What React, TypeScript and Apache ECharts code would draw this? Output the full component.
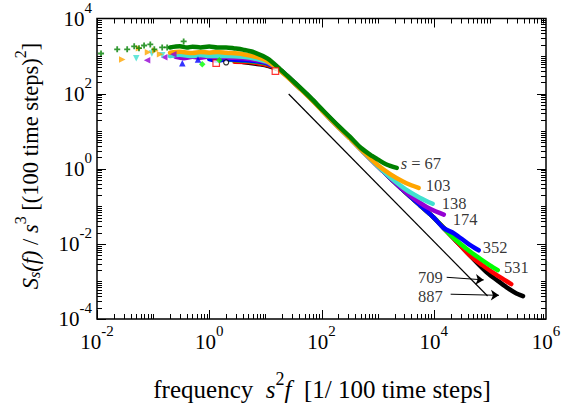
import React, { useEffect, useRef } from 'react';
import * as echarts from 'echarts';

const FONT = 'Liberation Serif';

const sizeLabels = ['s = 67', '103', '138', '174', '352', '531', '709', '887'];
const colors = ['#008000', '#ffa500', '#40e0d0', '#9400d3', '#0000ff', '#00ff00', '#ff0000', '#000000'];

// sparse low-frequency points [s^2 f, S/s^3]
const marks67 = [[0.0118, 1170], [0.0229, 1510], [0.0345, 1510], [0.046, 1820], [0.056, 1620], [0.069, 1910], [0.089, 2040], [0.105, 1510], [0.145, 1700], [0.178, 1700], [0.35, 2450]];
const marks103 = [[0.0282, 813], [0.056, 1620], [0.081, 1260], [0.109, 1410], [0.133, 1120]];
const marks138 = [[0.05, 871], [0.095, 1170], [0.145, 1050]];
const marks174 = [[0.078, 776], [0.158, 933], [0.229, 1120]];
const marks352 = [[0.331, 646], [0.631, 813]];
const marks531 = [[0.75, 603], [1.51, 776]];
const marks709 = [[1.33, 646], [15.1, 398]];
const marks887 = [[2.0, 676]];

// dense part of each spectrum
const band67 = [[0.2, 1700], [0.3, 1820], [0.4, 1680], [0.501, 1780], [0.7, 1700], [1.0, 1800], [1.4, 1690], [2.0, 1700], [2.8, 1600], [3.98, 1480], [6.31, 1260], [11.0, 851], [18.6, 437], [34.7, 186], [63.1, 79.4], [110, 33.9], [200, 13.8], [316, 7.24], [501, 3.63], [794, 2.19], [1000, 1.78], [1410, 1.32], [2190, 1.05]];
const band103 = [[0.2, 1230], [0.3, 1300], [0.501, 1200], [0.7, 1280], [1, 1230], [1.4, 1290], [2, 1230], [3.98, 1120], [7.08, 933], [11, 724], [18.6, 398], [34.7, 174], [63.1, 74.1], [110, 31.6], [200, 12.9], [316, 6.61], [562, 2.82], [1000, 1.26], [1700, 0.708], [2820, 0.457], [3980, 0.363], [5370, 0.309]];
const band138 = [[0.2, 1000], [0.3, 1080], [0.501, 1000], [0.7, 1060], [1, 1000], [2, 1000], [3.98, 955], [7.08, 832], [11, 692], [18.6, 417], [34.7, 178], [63.1, 75.9], [110, 32.4], [200, 13.2], [316, 6.76], [562, 2.82], [1000, 1.2], [1780, 0.55], [3160, 0.282], [5620, 0.17], [9550, 0.117]];
const band174 = [[0.251, 955], [0.35, 880], [0.501, 960], [0.7, 900], [1, 977], [2, 912], [3.98, 871], [7.08, 776], [11, 661], [18.6, 417], [34.7, 178], [63.1, 75.9], [110, 32.4], [200, 13.2], [316, 6.76], [562, 2.82], [1000, 1.2], [1780, 0.525], [3160, 0.24], [5620, 0.126], [8910, 0.0832], [15100, 0.0603]];
const band352 = [[1, 832], [1.4, 760], [2, 820], [3.98, 776], [7.08, 724], [11, 631], [18.6, 417], [34.7, 178], [63.1, 75.9], [110, 32.4], [200, 13.2], [316, 6.76], [562, 2.82], [1000, 1.2], [1780, 0.525], [3160, 0.234], [5890, 0.102], [10000, 0.0501], [15100, 0.0263], [22900, 0.0191], [40700, 0.0102], [63100, 0.00676]];
const band531 = [[2.24, 794], [3.98, 759], [7.08, 708], [11, 617], [18.6, 417], [34.7, 178], [63.1, 75.9], [110, 32.4], [200, 13.2], [316, 6.76], [562, 2.82], [1000, 1.2], [1780, 0.525], [3160, 0.234], [5890, 0.102], [10000, 0.0501], [15100, 0.0263], [22900, 0.0141], [39800, 0.00708], [69200, 0.00389], [100000, 0.00269], [138000, 0.002]];
const band709 = [[2.82, 708], [5.01, 692], [7.94, 631], [11, 575], [18.6, 417], [34.7, 178], [63.1, 75.9], [110, 32.4], [200, 13.2], [316, 6.76], [562, 2.82], [1000, 1.2], [1780, 0.525], [3160, 0.234], [5890, 0.102], [10000, 0.0501], [15100, 0.0263], [22900, 0.0138], [45700, 0.00468], [74100, 0.00269], [117000, 0.00166], [178000, 0.00112], [240000, 0.000851]];
const band887 = [[3.98, 692], [7.94, 603], [11, 550], [18.6, 417], [34.7, 178], [63.1, 75.9], [110, 32.4], [200, 13.2], [316, 6.76], [562, 2.82], [1000, 1.2], [1780, 0.525], [3160, 0.234], [5890, 0.102], [10000, 0.0501], [15100, 0.0263], [22900, 0.0138], [45700, 0.00468], [91200, 0.00166], [141000, 0.00102], [209000, 0.00066], [282000, 0.000501], [389000, 0.000407]];

// slope reference line
const refLine = [[26, 98], [91000, 0.00041]];
// arrows pointing at 709 and 887
const arrow709 = [[17000, 0.00129], [77600, 0.0011]];
const arrow887 = [[20000, 0.000457], [145000, 0.000427]];

// curve label anchors
const labelPos = [[2570, 1.35], [7190, 0.355], [13900, 0.122], [21900, 0.0433], [75000, 0.00813], [178000, 0.0024], [14500, 0.00129], [14500, 0.000407]];

const xExps = [-2, -1, 0, 1, 2, 3, 4, 5];
const yExps = [-4, -3, -2, -1, 0, 1, 2, 3];
const tickMults = [1, 2, 3, 4, 5, 6, 7, 8, 9];

const bands = [band67, band103, band138, band174, band352, band531, band709, band887];
const marks = [marks67, marks103, marks138, marks174, marks352, marks531, marks709, marks887];
const symbols = [
  'path://M-0.3,-1H0.3V-0.3H1V0.3H0.3V1H-0.3V0.3H-1V-0.3H-0.3Z',
  'triangle', 'triangle', 'triangle', 'triangle', 'diamond', 'rect', 'circle',
];
const rotations = [0, -90, 180, 90, 0, 0, 0, 0];

const App = () => {
  const ref = useRef<HTMLDivElement>(null);
  useEffect(() => {
    const chart = echarts.init(ref.current!, null, { renderer: 'svg' });

    const labelRich = {
      b: { fontSize: 21, fontFamily: FONT, color: '#000', lineHeight: 32, verticalAlign: 'middle' },
      s: { fontSize: 15, fontFamily: FONT, color: '#000', lineHeight: 32, verticalAlign: 'middle', padding: [0, 0, 22, 0] },
    };
    const fmt = (v: number) => {
      const e = Math.round(Math.log10(v));
      if (e % 2 !== 0) return '';
      return `{b|10}{s|${e}}`;
    };

    const tickData: number[][] = [];
    xExps.forEach((e) => tickMults.forEach((m) => tickData.push([m * Math.pow(10, e), 1, 0, m === 1 && e % 2 === 0 ? 1 : 0])));
    yExps.forEach((e) => tickMults.forEach((m) => tickData.push([1, m * Math.pow(10, e), 1, m === 1 && e % 2 === 0 ? 1 : 0])));

    const series: any[] = [];
    for (let i = bands.length - 1; i >= 0; i--) {
      series.push({
        type: 'line', data: bands[i], showSymbol: false, smooth: 0.3, silent: true,
        lineStyle: { color: colors[i], width: 4.5, cap: 'round', join: 'round' }, z: 2,
      });
    }
    for (let i = marks.length - 1; i >= 0; i--) {
      const hollow = i >= 6;
      series.push({
        type: 'scatter', data: marks[i], symbol: symbols[i], symbolRotate: rotations[i],
        symbolSize: i === 0 ? 6 : i === 7 ? 5 : 6.5, silent: true, z: 3,
        itemStyle: hollow
          ? { color: '#fff', borderColor: colors[i], borderWidth: 1.2 }
          : { color: colors[i] },
      });
    }
    series.push({
      type: 'line', data: refLine, showSymbol: false, silent: true, z: 4,
      lineStyle: { color: '#000', width: 1.2 },
      markLine: {
        silent: true, symbol: ['none', 'arrow'], symbolSize: 8, animation: false,
        lineStyle: { color: '#000', width: 1, type: 'solid' }, label: { show: false },
        data: [
          [{ coord: arrow709[0] }, { coord: arrow709[1] }],
          [{ coord: arrow887[0] }, { coord: arrow887[1] }],
        ],
      },
    });
    series.push({
      type: 'scatter', symbolSize: 0, silent: true, z: 5,
      data: labelPos.map((p, i) => ({
        value: p,
        label: {
          show: true, position: i >= 6 ? 'left' : 'right', distance: 0,
          formatter: i === 0 ? '{i|s} = 67' : sizeLabels[i],
          color: '#000', fontSize: 16.5, fontFamily: FONT, lineHeight: 13,
          rich: { i: { fontStyle: 'italic', fontSize: 16.5, fontFamily: FONT, color: '#000', lineHeight: 13 } },
        },
      })),
    });
    series.push({
      type: 'custom', data: tickData, encode: { x: 0, y: 1 }, clip: false, silent: true, z: 6,
      renderItem: (params: any, api: any) => {
        const cs = params.coordSys;
        const kind = api.value(2);
        const major = api.value(3);
        const len = major ? 9 : 5;
        const pt = api.coord([api.value(0), api.value(1)]);
        const st = { stroke: '#000', lineWidth: 1 };
        if (kind === 0) {
          const x = Math.round(pt[0]) + 0.5;
          const yb = cs.y + cs.height;
          const yt = cs.y;
          return {
            type: 'group', children: [
              { type: 'line', shape: { x1: x, y1: yb, x2: x, y2: yb - len }, style: st },
              { type: 'line', shape: { x1: x, y1: yt, x2: x, y2: yt + len }, style: st },
            ],
          };
        }
        const y = Math.round(pt[1]) + 0.5;
        const xl = cs.x;
        const xr = cs.x + cs.width;
        return {
          type: 'group', children: [
            { type: 'line', shape: { x1: xl, y1: y, x2: xl + len, y2: y }, style: st },
            { type: 'line', shape: { x1: xr, y1: y, x2: xr - len, y2: y }, style: st },
          ],
        };
      },
    });

    const mkRich = (fs: number) => ({
      i: { fontStyle: 'italic', fontSize: fs, fontFamily: FONT, fill: '#000', lineHeight: 32, verticalAlign: 'middle' },
      sup: { fontSize: Math.round(fs * 0.7), fontFamily: FONT, fill: '#000', lineHeight: 32, verticalAlign: 'middle', padding: [0, 0, 20, 0] },
      sub: { fontSize: Math.round(fs * 0.7), fontStyle: 'italic', fontFamily: FONT, fill: '#000', lineHeight: 32, verticalAlign: 'middle', padding: [9, 0, 0, 0] },
    });

    const option: any = {
      animation: false,
      grid: { left: 97, top: 16, width: 449, height: 303, show: true, borderColor: '#000', borderWidth: 1.5, backgroundColor: 'transparent' },
      xAxis: {
        type: 'log', logBase: 10, min: 0.01, max: 1e6, splitNumber: 5,
        axisLine: { show: false }, axisTick: { show: false }, splitLine: { show: false },
        axisLabel: { margin: 7, formatter: fmt, rich: labelRich, fontFamily: FONT, showMinLabel: true, showMaxLabel: true, hideOverlap: false },
      },
      yAxis: {
        type: 'log', logBase: 10, min: 1e-4, max: 1e4, splitNumber: 5,
        axisLine: { show: false }, axisTick: { show: false }, splitLine: { show: false },
        axisLabel: { margin: 5, formatter: fmt, rich: labelRich, fontFamily: FONT, showMinLabel: true, showMaxLabel: true, hideOverlap: false },
      },
      graphic: [
        {
          type: 'text', x: 322, y: 389, silent: true,
          style: {
            text: 'frequency  {i|s}{sup|2}{i|f}  [1/ 100 time steps]', rich: mkRich(25),
            fontSize: 25, fontFamily: FONT, fill: '#000', lineHeight: 32, align: 'center', verticalAlign: 'middle',
          },
        },
        {
          type: 'text', x: 30, y: 166, rotation: Math.PI / 2, silent: true,
          style: {
            text: '{i|S}{sub|s}{i|(f)} / {i|s}{sup|3} [(100 time steps){sup|2}]', rich: mkRich(22.5),
            fontSize: 22.5, fontFamily: FONT, fill: '#000', lineHeight: 32, align: 'center', verticalAlign: 'middle',
          },
        },
      ],
      series,
    };
    chart.setOption(option);
    return () => chart.dispose();
  }, []);
  return <div ref={ref} style={{ position: 'absolute', left: 0, top: 0, width: 573, height: 408 }} />;
};

export default App;
